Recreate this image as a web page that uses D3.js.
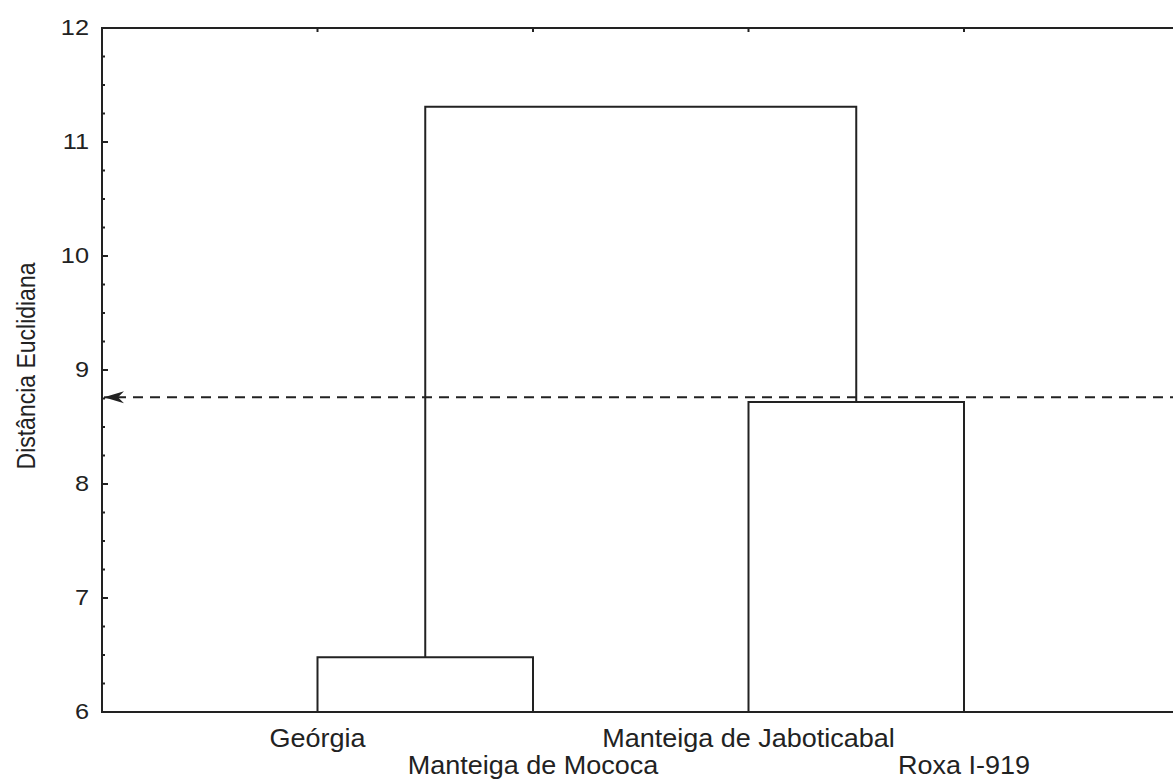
<!DOCTYPE html>
<html>
<head>
<meta charset="utf-8">
<script src="https://cdn.jsdelivr.net/npm/d3@7"></script>
<style>
  html, body { margin: 0; padding: 0; background: #fff; }
  svg { display: block; }
  text { font-family: "Liberation Sans", Arial, sans-serif; fill: #222; }
</style>
</head>
<body>
<svg id="chart" width="1173" height="781"></svg>
<script>
// leaves in dendrogram order
const leaves = ['Geórgia', 'Manteiga de Mococa', 'Manteiga de Jaboticabal', 'Roxa I-919'];
// merges: [left child, right child, height]; children < 4 are leaves, 4+ are merges
const merges = [
  [0, 1, 6.48],
  [2, 3, 8.72],
  [4, 5, 11.31]
];
const cutHeight = 8.76;
const yTicks = [6, 7, 8, 9, 10, 11, 12];

const W = 1173, H = 781;
const m = { left: 102, top: 28, bottom: 69 };
const step = 215.5;

const svg = d3.select('#chart');

const x = d3.scaleLinear().domain([0, leaves.length + 1]).range([m.left, m.left + step * (leaves.length + 1)]);
const y = d3.scaleLinear().domain([6, 12]).range([H - m.bottom, m.top]);

const ink = '#222';

// axes lines
svg.append('line')
  .attr('x1', m.left).attr('x2', W).attr('y1', y(12)).attr('y2', y(12))
  .attr('stroke', ink).attr('stroke-width', 2);
svg.append('line')
  .attr('x1', m.left).attr('x2', W).attr('y1', y(6)).attr('y2', y(6))
  .attr('stroke', ink).attr('stroke-width', 2);
svg.append('line')
  .attr('x1', m.left).attr('x2', m.left).attr('y1', y(12) - 1).attr('y2', y(6) + 1)
  .attr('stroke', ink).attr('stroke-width', 2);

// y ticks, major + minor (inward)
const minor = d3.range(6, 12.001, 0.25);
svg.selectAll('line.minor').data(minor).enter().append('line')
  .attr('x1', m.left).attr('x2', d => m.left + (Number.isInteger(d) ? 6 : 3))
  .attr('y1', d => y(d)).attr('y2', d => y(d))
  .attr('stroke', ink).attr('stroke-width', 2);

// the source picture is a bit stretched sideways, so text gets a small x-scale
svg.selectAll('text.ytick').data(yTicks).enter().append('text')
  .attr('transform', d => `translate(${m.left - 13},${y(d) + 7}) scale(1.15,1)`)
  .attr('text-anchor', 'end').attr('font-size', 22)
  .text(d => d);

// top ticks at leaf positions
svg.selectAll('line.xtick').data(leaves).enter().append('line')
  .attr('x1', (d, i) => x(i + 1)).attr('x2', (d, i) => x(i + 1))
  .attr('y1', y(12)).attr('y2', y(12) + 4)
  .attr('stroke', ink).attr('stroke-width', 2);

// y label
svg.append('text')
  .attr('transform', `translate(35,366) rotate(-90) scale(1,1.1)`)
  .attr('text-anchor', 'middle').attr('font-size', 23)
  .text('Distância Euclidiana');

// leaf labels, staggered
svg.selectAll('text.leaf').data(leaves).enter().append('text')
  .attr('transform', (d, i) => `translate(${x(i + 1)},${i % 2 === 0 ? y(6) + 35 : y(6) + 62}) scale(1.08,1)`)
  .attr('text-anchor', 'middle').attr('font-size', 25)
  .text(d => d);

// dendrogram links
const nodes = leaves.map((d, i) => ({ x: x(i + 1), h: 6 }));
merges.forEach(([a, b, h]) => {
  const na = nodes[a], nb = nodes[b];
  svg.append('path')
    .attr('d', `M${na.x},${y(na.h)}V${y(h)}H${nb.x}V${y(nb.h)}`)
    .attr('fill', 'none').attr('stroke', ink).attr('stroke-width', 2);
  nodes.push({ x: (na.x + nb.x) / 2, h });
});

// cut line with arrow
svg.append('line')
  .attr('x1', m.left + 14).attr('x2', W).attr('y1', y(cutHeight)).attr('y2', y(cutHeight))
  .attr('stroke', ink).attr('stroke-width', 2).attr('stroke-dasharray', '10 7');
const ay = y(cutHeight);
svg.append('path')
  .attr('d', `M${m.left + 2},${ay} L${m.left + 22},${ay - 6} L${m.left + 16},${ay} L${m.left + 22},${ay + 6} Z`)
  .attr('fill', ink);
svg.append('line')
  .attr('x1', m.left + 2).attr('x2', m.left + 14).attr('y1', ay).attr('y2', ay)
  .attr('stroke', ink).attr('stroke-width', 2);
</script>
</body>
</html>
